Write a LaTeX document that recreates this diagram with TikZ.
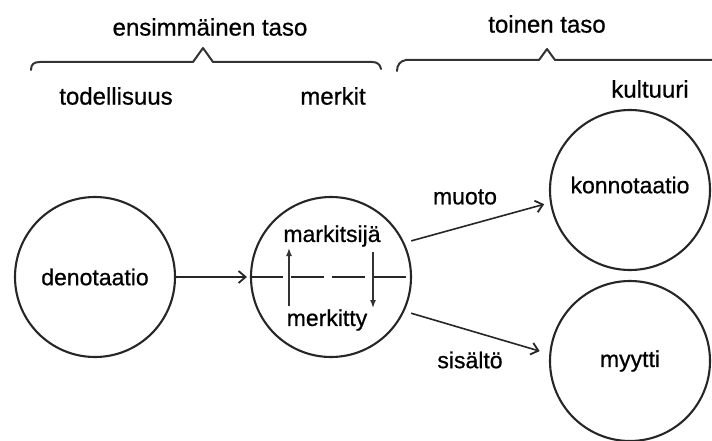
\documentclass[tikz,border=0pt]{standalone}
\usepackage{fontspec}
\setmainfont{Liberation Sans}[FakeBold=0.7]
\usetikzlibrary{arrows.meta}
\begin{document}
\begin{tikzpicture}[x=1pt,y=-1pt,
  ring/.style={circle,draw=black!85,line width=2.1pt,minimum size=160pt,inner sep=0pt,font=\fontsize{23}{25}\selectfont},
  lbl/.style={font=\fontsize{23}{25}\selectfont,inner sep=0pt},
  conn/.style={line width=1.6pt,draw=black!85,-{Straight Barb[length=7pt,width=12pt,line width=1.8pt]}},
  small/.style={line width=1.4pt,draw=black!80,-{Latex[length=8pt,width=6pt]}},
  brace/.style={line width=2pt,draw=black!80,line cap=round,line join=round}]
\useasboundingbox (0,0) rectangle (712,441);
% circles
\node[ring] (den) at (95,277) {denotaatio};
\node[ring] (mid) at (331,277) {};
\node[ring] (konn) at (630,190) {};
\node[ring] (myy) at (630,361) {myytti};
\node[lbl] (kontxt) at (630,185) {konnotaatio};
% inner labels
\node[lbl] (sijaa) at (332,236) {markitsijä};
\node[lbl] (tty) at (327,320) {merkitty};
% dashed divider
\draw[line width=2pt,draw=black!85,dash pattern=on 33pt off 8pt] (mid.west) -- (mid.east);
% inner arrows
\coordinate (upA) at (289,306);
\coordinate (upB) at (289,248);
\coordinate (dnA) at (373,252);
\coordinate (dnB) at (373,308);
\draw[small] (upA) -- (upB);
\draw[small] (dnA) -- (dnB);
% connectors
\draw[conn,shorten >=3pt] (den.east) -- (mid.west);
\draw[conn,shorten <=7pt,shorten >=6pt] (mid.25) -- (konn.189);
\draw[conn,shorten <=7pt,shorten >=10pt] (mid.-25) -- (myy.175);
\node[lbl] (muoto) at (465,197) {muoto};
\node[lbl] (sisalto) at (470,360) {sisältö};
% braces
\coordinate (b1s) at (31,70);
\coordinate (b1e) at (381,69);
\draw[brace] (b1s) .. controls (31,64) and (34,62) .. (40,62) -- (193,62) -- (203,48) -- (213,62) -- (372,62) .. controls (377,62) and (380,64) .. (b1e);
\coordinate (b2s) at (397,71);
\coordinate (b2e) at (713,60);
\draw[brace] (b2s) .. controls (397,65) and (400,61) .. (406,60) -- (539,60) -- (547,49) -- (555,60) -- (b2e);
\node[lbl,font=\fontsize{24}{26}\selectfont] (ens) at (210,27) {ensimmäinen taso};
\node[lbl,font=\fontsize{24}{26}\selectfont] (toi) at (547,24) {toinen taso};
\node[lbl,font=\fontsize{24}{26}\selectfont] (tod) at (116,96) {todellisuus};
\node[lbl,font=\fontsize{24}{26}\selectfont] (mer) at (333,96) {merkit};
\node[lbl,font=\fontsize{24}{26}\selectfont] (kul) at (650,89) {kultuuri};
\end{tikzpicture}
\end{document}
